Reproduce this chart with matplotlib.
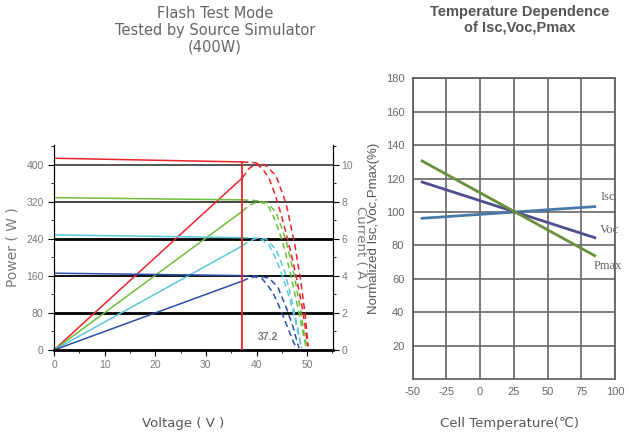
import matplotlib.pyplot as plt

plt.rcParams['axes.unicode_minus'] = False

# ---- flash test data ----
colors = ['#e8262a', '#6cbf3a', '#5bc8d8', '#2a4fa8']
v_mp = 37.2

# solid I-V part (A): current at 0 V and at 37.2 V
isc = [10.36, 8.23, 6.22, 4.15]
imp = [10.16, 8.11, 6.07, 4.02]
# solid P-V part (W) at 37.2 V
pmp = [372, 300, 225, 149]

# dashed P-V tails (V, W)
p_tail_v = [
    [37.2, 38.5, 39.9, 41.2, 42.5, 43.7, 44.8, 45.9, 47.0, 48.0, 48.9, 49.6, 50.1],
    [37.2, 38.6, 40.3, 41.5, 42.5, 43.5, 44.5, 45.6, 46.7, 47.7, 48.6, 49.4, 49.8],
    [37.2, 38.5, 39.9, 41.3, 42.6, 43.7, 44.8, 45.8, 46.8, 47.6, 48.3, 48.9],
    [37.2, 38.4, 39.6, 41.0, 42.2, 43.3, 44.2, 45.0, 45.8, 46.6, 47.3, 48.0],
]
p_tail_w = [
    [372, 392, 402, 392, 370, 335, 295, 250, 200, 150, 100, 50, 8],
    [300, 313, 321, 317, 307, 285, 255, 215, 165, 115, 68, 25, 6],
    [225, 235, 241, 237, 224, 200, 170, 138, 100, 65, 32, 5],
    [149, 155, 158, 155, 140, 122, 101, 80, 58, 36, 17, 3],
]

# dashed I-V tails (V, A)
i_tail_v = [
    [37.2, 39.5, 41.0, 42.2, 43.9, 45.8, 47.5, 48.8, 49.6, 50.2],
    [37.2, 39.5, 41.0, 42.2, 43.9, 45.8, 47.5, 48.6, 49.4, 49.9],
    [37.2, 39.5, 41.0, 41.9, 43.9, 45.5, 46.8, 47.8, 48.4, 48.9],
    [37.2, 39.5, 41.2, 42.5, 44.2, 45.8, 47.2, 47.9, 48.4],
]
i_tail_a = [
    [10.16, 10.12, 10.05, 9.9, 9.37, 7.95, 5.77, 3.6, 1.9, 0.2],
    [8.11, 8.08, 8.03, 7.95, 7.4, 5.95, 3.95, 2.3, 0.9, 0.2],
    [6.07, 6.05, 6.02, 6.0, 5.4, 4.3, 2.9, 1.6, 0.8, 0.1],
    [4.02, 4.0, 3.95, 3.88, 3.4, 2.34, 1.26, 0.55, 0.1],
]

# horizontal reference lines (W)
ref_w = [400, 320, 240, 160, 80]
ref_color = ['#555555', '#444444', 'black', 'black', 'black']
ref_lw = [1.4, 1.4, 2.0, 1.3, 2.0]

# ---- temperature dependence data ----
temp = [-43, 85]
isc_pct = [96.2, 103.2]
voc_pct = [117.9, 84.6]
pmax_pct = [130.5, 73.8]

gray = '#7a7a7a'
arial = 'Liberation Sans'
fig = plt.figure(figsize=(6.29, 4.34), dpi=100)

# ---------------- left chart ----------------
ax = fig.add_axes([54/629, 1-350/434, 279/629, 205/434])
ax2 = ax.twinx()

for w, c, lw in zip(ref_w, ref_color, ref_lw):
    ax.axhline(w, color=c, lw=lw, zorder=1)

for k, c in enumerate(colors):
    ax2.plot([0, v_mp], [isc[k], imp[k]], color=c, lw=1.1)
    ax.plot([0, v_mp], [0, pmp[k]], color=c, lw=1.1)
    ax.plot(p_tail_v[k], p_tail_w[k], color=c, lw=1.1, ls=(0, (4, 2.5)))
    ax2.plot(i_tail_v[k], i_tail_a[k], color=c, lw=1.1, ls=(0, (4, 2.5)))

ax2.plot([v_mp, v_mp], [0, imp[0]], color=colors[0], lw=1.3)
ax.text(40.3, 22, '37.2', fontsize=7.5, fontweight='bold', color='#777777',
        family=arial)

ax.set_xlim(0, 55.1)
ax.set_ylim(0, 443)
ax2.set_ylim(0, 443/40)
ax.set_xticks(range(0, 51, 10))
ax.set_xticks(range(5, 56, 10), minor=True)
ax.set_yticks(range(0, 401, 80))
ax.set_yticks(range(40, 441, 80), minor=True)
ax2.set_yticks(range(0, 11, 2))
ax2.set_yticks(range(1, 12, 2), minor=True)

for a in (ax, ax2):
    a.spines['top'].set_visible(False)
    for s in ('left', 'right', 'bottom'):
        a.spines[s].set_color('black')
    a.tick_params(which='both', direction='out', colors='black',
                  labelcolor=gray, labelsize=7.5)
    a.tick_params(which='major', length=4)
    a.tick_params(which='minor', length=2.5)
    for lab in a.get_xticklabels() + a.get_yticklabels():
        lab.set_family(arial)
ax2.tick_params(axis='y', pad=2)
ax.spines['bottom'].set_linewidth(2)
ax.set_ylabel('Power ( W )', color=gray, fontsize=10)
ax.yaxis.set_label_coords(-0.125, 0.5)
ax2.set_ylabel('Current ( A )', color=gray, fontsize=9.5, rotation=270,
               va='center')
ax2.yaxis.set_label_coords(1.097, 0.5)

fig.text(215/629, 1-6/434, 'Flash Test Mode\nTested by Source Simulator\n(400W)',
         ha='center', va='top', fontsize=10.5, color='#666666', linespacing=1.15)
fig.text(183/629, 1-424/434, 'Voltage ( V )', ha='center', va='center',
         fontsize=9.5, color='#555555')

# ---------------- right chart ----------------
bx = fig.add_axes([412.7/629, 1-379/434, 202.3/629, 300.7/434])
bx.set_xlim(-50, 100)
bx.set_ylim(0, 180)
bx.set_xticks(range(-50, 101, 25))
bx.set_yticks(range(20, 181, 20))
bx.grid(True, color='#666666', lw=1.2)
bx.set_axisbelow(True)
for s in bx.spines.values():
    s.set_color('#5a5a5a')
    s.set_linewidth(1.2)
bx.tick_params(length=0, labelcolor='#666666', labelsize=8, pad=6)
for lab in bx.get_xticklabels() + bx.get_yticklabels():
    lab.set_family(arial)

bx.plot(temp, isc_pct, color='#4a78a6', lw=2)
bx.plot(temp, voc_pct, color='#4e4f8e', lw=2)
bx.plot(temp, pmax_pct, color='#6a8f3c', lw=2)
bx.text(89, 109, 'Isc', family='Liberation Serif', fontsize=9, color='#666666',
        ha='left', va='center')
bx.text(89, 89, 'Voc', family='Liberation Serif', fontsize=9, color='#666666',
        ha='left', va='center')
bx.text(84, 67.5, 'Pmax', family='Liberation Serif', fontsize=9, color='#666666',
        ha='left', va='center')

bx.set_ylabel('Normalized Isc,Voc,Pmax(%)', color='#555555', fontsize=9.5,
              family=arial)
bx.yaxis.set_label_coords(-0.162, 0.5)
fig.text(520/629, 1-5/434, 'Temperature Dependence\nof Isc,Voc,Pmax',
         ha='center', va='top', fontsize=10.5, fontweight='bold',
         color='#555555', linespacing=1.15, family=arial)
fig.text(510/629, 1-424/434, 'Cell Temperature(\u2103)', ha='center',
         va='center', fontsize=9.5, color='#555555')

fig.savefig('out.png', dpi=100)
